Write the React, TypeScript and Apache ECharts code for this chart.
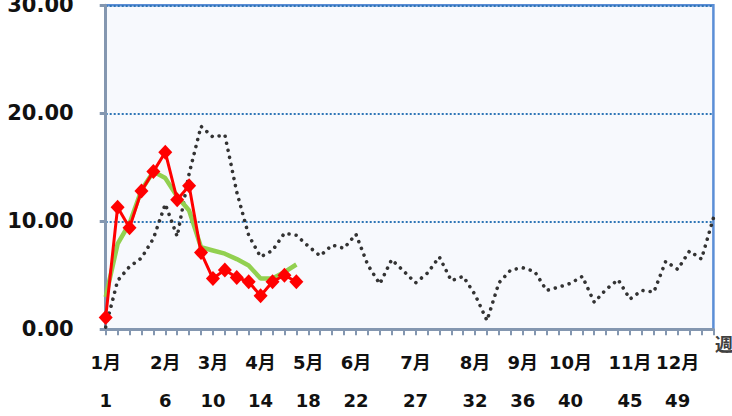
import React, { useEffect, useRef } from "react";
import * as echarts from "echarts";

const weeks = ["1","2","3","4","5","6","7","8","9","10","11","12","13","14","15","16","17","18","19","20","21","22","23","24","25","26","27","28","29","30","31","32","33","34","35","36","37","38","39","40","41","42","43","44","45","46","47","48","49","50","51","52"];
const labelWeeks = ["1","6","10","14","18","22","27","32","36","40","45","49"];
const monthLabels = ["1月","2月","3月","4月","5月","6月","7月","8月","9月","10月","11月","12月"];
const yTicks = [0, 10, 20, 30];

const currentYear = [1.1, 11.3, 9.4, 12.8, 14.6, 16.4, 12.0, 13.3, 7.1, 4.7, 5.5, 4.8, 4.4, 3.1, 4.4, 5.0, 4.4];
const average = [3.0, 7.9, 9.8, 12.9, 14.6, 14.0, 12.3, 11.0, 7.6, 7.3, 7.0, 6.5, 5.9, 4.7, 4.7, 5.3, 6.0];
const lastYear = [0.2, 4.5, 5.8, 6.6, 8.4, 11.6, 8.6, 14.4, 18.8, 17.8, 18.0, 12.7, 8.7, 6.7, 7.3, 8.9, 8.7, 7.7, 6.8, 7.8, 7.5, 8.8, 5.95, 4.2, 6.45, 5.4, 4.3, 5.2, 6.7, 4.5, 4.9, 3.2, 0.8, 4.3, 5.5, 5.7, 5.35, 3.6, 3.9, 4.25, 4.9, 2.5, 3.7, 4.6, 2.8, 3.6, 3.45, 6.3, 5.55, 7.25, 6.5, 10.3];

const titleText = "インフルエンザ定点当たり報告数";
const axisName = "週";

const FONT = "'DejaVu Sans', 'Noto Sans CJK JP', sans-serif";

export default function App() {
  const ref = useRef<HTMLDivElement>(null);
  useEffect(() => {
    if (!ref.current) return;
    const chart = echarts.init(ref.current, null, { renderer: "svg" });
    const axisColor = "#8497b0";
    chart.setOption({
      animation: false,
      backgroundColor: "#ffffff",
      grid: {
        left: 105.7,
        right: 18.6,
        top: 5.3,
        bottom: 86.7,
        outerBoundsMode: "none",
        containLabel: false,
        show: true,
        backgroundColor: "#f7f9fd",
        borderColor: "#5b8ed6",
        borderWidth: 2.5,
      },
      graphic: [
        {
          type: "text",
          left: 290,
          top: -19,
          style: { text: titleText, fill: "#4f7a28", font: `bold 20px ${FONT}` },
        },
        {
          type: "text",
          left: 715,
          top: 335,
          style: { text: axisName, fill: "#404040", font: `bold 18px ${FONT}` },
        },
      ],
      xAxis: {
        type: "category",
        data: weeks,
        boundaryGap: false,
        axisLine: { lineStyle: { color: axisColor, width: 3 } },
        axisTick: {
          show: true,
          interval: 0,
          inside: false,
          length: 6,
          lineStyle: { color: axisColor, width: 2 },
        },
        axisLabel: {
          interval: (idx: number) => labelWeeks.indexOf(weeks[idx]) >= 0,
          formatter: (v: string) => {
            const i = labelWeeks.indexOf(v);
            return i >= 0 ? `${monthLabels[i]}\n${v}` : "";
          },
          margin: 14,
          lineHeight: 38,
          color: "#111",
          fontWeight: "bold",
          fontSize: 18,
          fontFamily: FONT,
        },
        splitLine: { show: false },
      },
      yAxis: {
        type: "value",
        min: 0,
        max: 30,
        interval: 10,
        axisLine: { show: true, lineStyle: { color: axisColor, width: 3 } },
        axisTick: { show: true, length: 6, lineStyle: { color: axisColor, width: 3 } },
        axisLabel: {
          formatter: (v: number) => (yTicks.indexOf(v) >= 0 ? v.toFixed(2) : ""),
          margin: 32,
          color: "#111",
          fontWeight: "bold",
          fontSize: 21,
          fontFamily: FONT,
        },
        splitLine: {
          show: true,
          lineStyle: { color: "#2e75b6", width: 2, type: [2, 2] },
        },
      },
      series: [
        {
          type: "line",
          data: lastYear,
          symbol: "none",
          z: 2,
          lineStyle: { color: "#333333", width: 3.6, type: [0.01, 7.2], cap: "round", join: "round" },
        },
        {
          type: "line",
          data: average,
          symbol: "none",
          z: 3,
          lineStyle: { color: "#92d050", width: 4.5 },
        },
        {
          type: "line",
          data: currentYear,
          symbol: "diamond",
          symbolSize: [14, 15],
          showAllSymbol: true,
          z: 4,
          itemStyle: { color: "#ff0000", borderWidth: 0 },
          lineStyle: { color: "#ff0000", width: 3 },
        },
      ],
    });
    return () => chart.dispose();
  }, []);
  return (
    <div
      ref={ref}
      style={{ position: "fixed", left: 0, top: 0, width: 732, height: 416 }}
    />
  );
}
